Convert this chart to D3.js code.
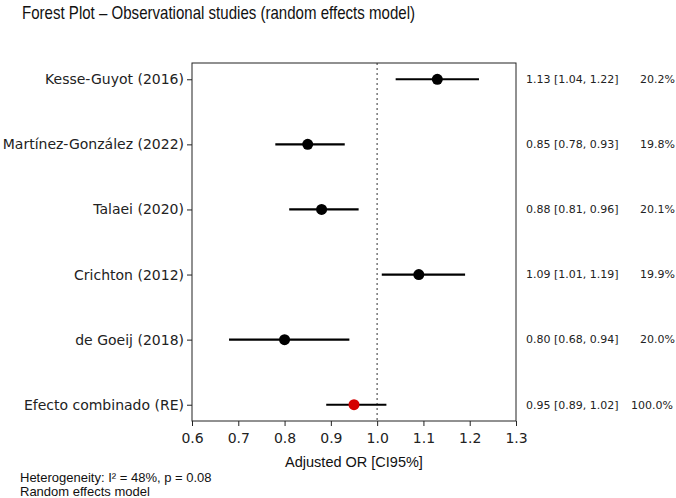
<!DOCTYPE html>
<html>
<head>
<meta charset="utf-8">
<script src="https://cdn.jsdelivr.net/npm/d3@7"></script>
<style>
  body { margin: 0; background: #fff; }
  svg { display: block; }
</style>
</head>
<body>
<svg id="forest" width="676" height="498"></svg>
<script>
// study data
var studies = ['Kesse-Guyot (2016)', 'Martínez-González (2022)', 'Talaei (2020)',
    'Crichton (2012)', 'de Goeij (2018)', 'Efecto combinado (RE)'];
var estimates = [1.13, 0.85, 0.88, 1.09, 0.80, 0.95];
var lowers = [1.04, 0.78, 0.81, 1.01, 0.68, 0.89];
var uppers = [1.22, 0.93, 0.96, 1.19, 0.94, 1.02];
var weights = [20.2, 19.8, 20.1, 19.9, 20.0, 100.0];
var xTicks = [0.6, 0.7, 0.8, 0.9, 1.0, 1.1, 1.2, 1.3];

var svg = d3.select('#forest');
var margin = { top: 63, right: 160, bottom: 77, left: 192 };
var width = 676 - margin.left - margin.right;
var height = 498 - margin.top - margin.bottom;
var g = svg.append('g').attr('transform', 'translate(' + margin.left + ',' + margin.top + ')');

var data = studies.map(function(s, i) {
    return { name: s, est: estimates[i], lo: lowers[i], hi: uppers[i], w: weights[i], pooled: i === studies.length - 1 };
});

var x = d3.scaleLinear().domain([0.6, 1.3]).range([0, width]);
var y = d3.scaleLinear().domain([-0.25, studies.length - 0.75]).range([0, height]);

var dejavu = 'DejaVu Sans, sans-serif';
var arial = 'Liberation Sans, Arial, sans-serif';

// title (condensed face in the original, squeeze it to the same width)
svg.append('text')
    .attr('x', 22)
    .attr('y', 19)
    .attr('font-family', arial)
    .attr('font-size', 19)
    .attr('fill', '#111')
    .attr('textLength', 393)
    .attr('lengthAdjust', 'spacingAndGlyphs')
    .text('Forest Plot – Observational studies (random effects model)');

// reference line at OR = 1
g.append('line')
    .attr('x1', x(1)).attr('x2', x(1))
    .attr('y1', 0).attr('y2', height)
    .attr('stroke', '#777')
    .attr('stroke-width', 1.5)
    .attr('stroke-dasharray', '2,3');

// CI lines
g.selectAll('.ci')
    .data(data)
    .enter().append('line')
    .attr('x1', function(d) { return x(d.lo); })
    .attr('x2', function(d) { return x(d.hi); })
    .attr('y1', function(d, i) { return y(i); })
    .attr('y2', function(d, i) { return y(i); })
    .attr('stroke', '#000')
    .attr('stroke-width', 2.2);

// point estimates
g.selectAll('.pt')
    .data(data)
    .enter().append('circle')
    .attr('cx', function(d) { return x(d.est); })
    .attr('cy', function(d, i) { return y(i); })
    .attr('r', 5.5)
    .attr('fill', function(d) { return d.pooled ? '#d40000' : '#000'; });

// axes
var xAxis = g.append('g')
    .attr('transform', 'translate(0,' + height + ')')
    .call(d3.axisBottom(x).tickValues(xTicks).tickFormat(d3.format('.1f')).tickSize(5).tickSizeOuter(0));

var yAxis = g.append('g')
    .call(d3.axisLeft(y).tickValues(d3.range(studies.length)).tickFormat(function(i) { return studies[i]; }).tickSize(5).tickSizeOuter(0));

[xAxis, yAxis].forEach(function(a) {
    a.select('.domain').remove();
    a.selectAll('line').attr('stroke', '#222').attr('stroke-width', 1);
    a.selectAll('text').attr('font-family', dejavu).attr('font-size', 14).attr('fill', '#222');
});
xAxis.selectAll('text').attr('dy', '1.0em');
yAxis.selectAll('text').attr('x', -8);

// frame
g.append('rect')
    .attr('width', width).attr('height', height)
    .attr('fill', 'none')
    .attr('stroke', '#222')
    .attr('stroke-width', 1);

// right-hand annotations
var ann = g.selectAll('.ann')
    .data(data)
    .enter().append('g')
    .attr('transform', function(d, i) { return 'translate(' + (width + 10) + ',' + y(i) + ')'; });

ann.append('text')
    .attr('dy', '0.35em')
    .attr('font-family', dejavu)
    .attr('font-size', 11)
    .attr('fill', '#222')
    .text(function(d) { return d.est.toFixed(2) + ' [' + d.lo.toFixed(2) + ', ' + d.hi.toFixed(2) + ']'; });

ann.append('text')
    .attr('x', function(d) { var s = d.w.toFixed(1); return 114 - (s.length - 4) * 9; })
    .attr('dy', '0.35em')
    .attr('font-family', dejavu)
    .attr('font-size', 11)
    .attr('fill', '#222')
    .text(function(d) { return d.w.toFixed(1) + '%'; });

// x label
svg.append('text')
    .attr('x', margin.left + width / 2)
    .attr('y', 467)
    .attr('text-anchor', 'middle')
    .attr('font-family', arial)
    .attr('font-size', 14.5)
    .attr('fill', '#111')
    .text('Adjusted OR [CI95%]');

// footnotes
svg.append('text')
    .attr('x', 20).attr('y', 482)
    .attr('font-family', arial).attr('font-size', 13).attr('fill', '#111')
    .text('Heterogeneity: I² = 48%, p = 0.08');
svg.append('text')
    .attr('x', 20).attr('y', 496)
    .attr('font-family', arial).attr('font-size', 13).attr('fill', '#111')
    .text('Random effects model');
</script>
</body>
</html>
